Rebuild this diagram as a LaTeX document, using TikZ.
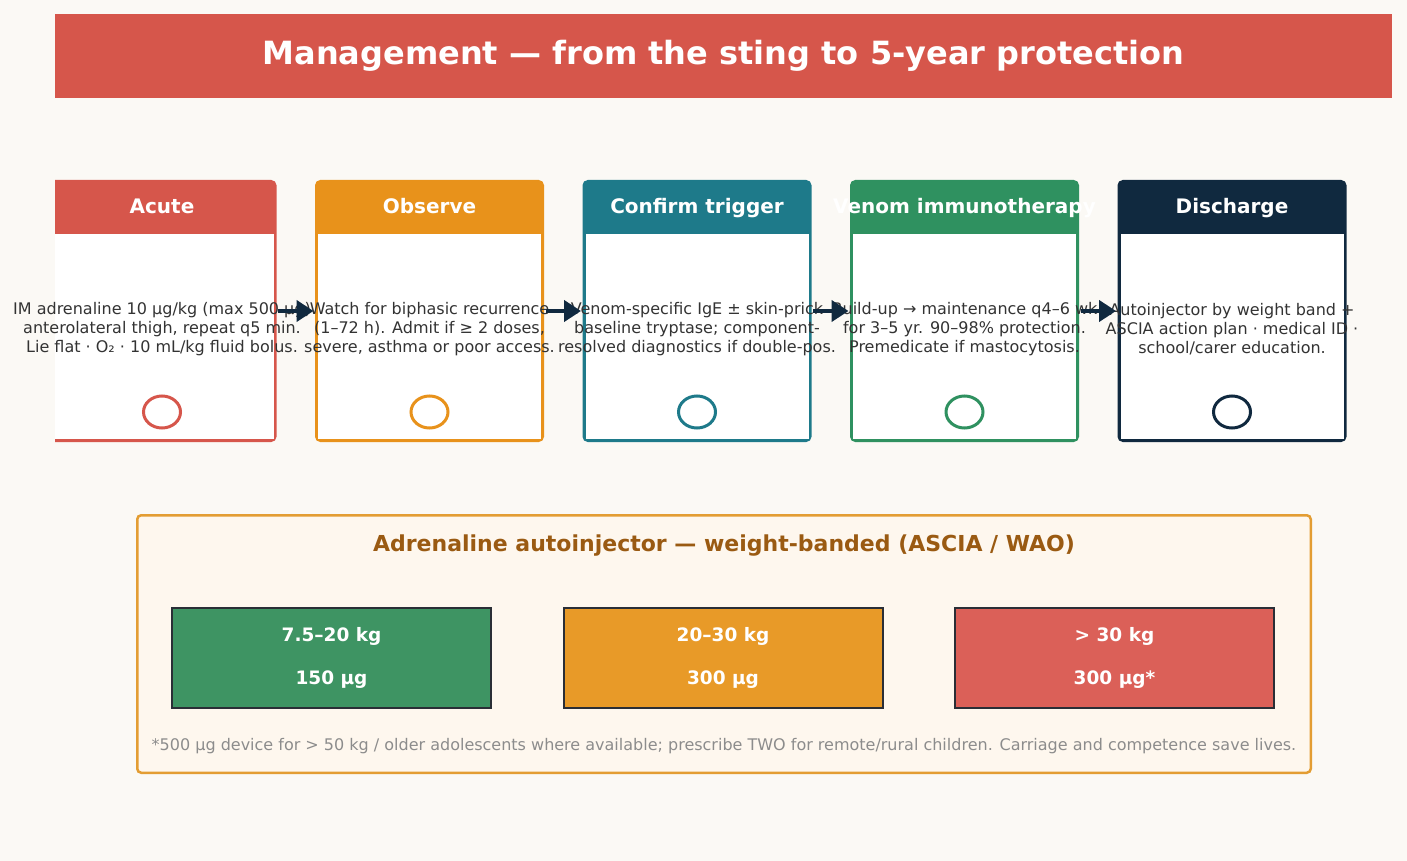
\documentclass[tikz,border=0pt]{standalone}
\usepackage{fontspec}
\setmainfont{DejaVu Sans}
\usepackage{xcolor}
\usetikzlibrary{arrows.meta, positioning, calc, shapes}

\definecolor{bgcream}{HTML}{FBF9F5}
\definecolor{cred}{HTML}{D6564B}
\definecolor{corange}{HTML}{E8921B}
\definecolor{cteal}{HTML}{1E7A8A}
\definecolor{cgreen}{HTML}{2F9160}
\definecolor{cnavy}{HTML}{10293F}
\definecolor{txtgray}{HTML}{333333}
\definecolor{notegray}{HTML}{8C8C8C}
\definecolor{panelfill}{HTML}{FEF7EE}
\definecolor{panelline}{HTML}{E39D33}
\definecolor{paneltext}{HTML}{9A5A12}
\definecolor{bgreen}{HTML}{3E9463}
\definecolor{borange}{HTML}{E89A28}
\definecolor{bred}{HTML}{DB6058}
\definecolor{bandline}{HTML}{2A2E36}

\begin{document}
\begin{tikzpicture}[x=1pt, y=-1pt, >=Stealth, node distance=41.5pt,
            card/.style={rectangle, fill=#1, draw=#1, line width=3pt, rounded corners=4pt, outer sep=0pt, inner sep=0pt, minimum width=226pt, minimum height=259pt},
            hdr/.style={anchor=base, text=white, font=\fontsize{20}{24}\selectfont\bfseries},
            body/.style={text=txtgray, align=center, font=\fontsize{16}{19}\selectfont},
            ring/.style={ellipse, draw=#1, line width=3pt, fill=white, inner sep=0pt, minimum width=37pt, minimum height=32pt},
            flow/.style={-{Triangle[length=17pt, width=21pt]}, line width=4.5pt, draw=cnavy, shorten >=3pt, shorten <=3pt},
            band/.style={rectangle, fill=#1, draw=bandline, line width=2pt, outer sep=0pt, minimum width=319pt, minimum height=100pt, text=white, align=center, font=\fontsize{18.5}{43}\selectfont\bfseries}]

            \fill[bgcream] (0,0) rectangle (1407,861);
            \useasboundingbox (0,0) rectangle (1407,861);

            \node[fill=cred, minimum width=1337pt, minimum height=84pt, text=white, font=\fontsize{32}{38}\selectfont\bfseries] (banner) at (723.5,56) {Management — from the sting to 5-year protection};

            % ===== cards =====
            \begin{scope}
                \clip (55,170) rectangle (300,450);
                \node[card=cred] (acute) at (162,311) {};
                \fill[white] ($(acute.south west)+(1.5,-1.5)$) rectangle ($(acute.north east)+(-1.5,52.5)$);
            \end{scope}
            \node[card=corange, right=of acute] (observe) {};
            \node[card=cteal, right=of observe] (confirm) {};
            \node[card=cgreen, right=of confirm] (vit) {};
            \node[card=cnavy, right=of vit] (discharge) {};

            \fill[white] ($(observe.south west)+(1.5,-1.5)$) rectangle ($(observe.north east)+(-1.5,52.5)$);
            \fill[white] ($(confirm.south west)+(1.5,-1.5)$) rectangle ($(confirm.north east)+(-1.5,52.5)$);
            \fill[white] ($(vit.south west)+(1.5,-1.5)$) rectangle ($(vit.north east)+(-1.5,52.5)$);
            \fill[white] ($(discharge.south west)+(1.5,-1.5)$) rectangle ($(discharge.north east)+(-1.5,52.5)$);

            \node[hdr] (acute_h) at ($(acute.north)+(0,31.5)$) {Acute};
            \node[hdr] (observe_h) at ($(observe.north)+(0,31.5)$) {Observe};
            \node[hdr] (confirm_h) at ($(confirm.north)+(0,31.5)$) {Confirm trigger};
            \node[hdr] (vit_h) at ($(vit.north)+(0,31.5)$) {Venom immunotherapy};
            \node[hdr] (discharge_h) at ($(discharge.north)+(0,31.5)$) {Discharge};

            \node[body] (acute_b) at ($(acute.center)+(0,18.5)$) {IM adrenaline 10 µg/kg (max 500 µg)\\anterolateral thigh, repeat q5 min.\\Lie flat · O₂ · 10 mL/kg fluid bolus.};
            \node[body] (observe_b) at ($(observe.center)+(0,18.5)$) {Watch for biphasic recurrence\\(1–72 h). Admit if ≥ 2 doses,\\severe, asthma or poor access.};
            \node[body] (confirm_b) at ($(confirm.center)+(0,18.5)$) {Venom-specific IgE ± skin-prick\\baseline tryptase; component-\\resolved diagnostics if double-pos.};
            \node[body] (vit_b) at ($(vit.center)+(0,18.5)$) {Build-up → maintenance q4–6 wk\\for 3–5 yr. 90–98\% protection.\\Premedicate if mastocytosis.};
            \node[body] (discharge_b) at ($(discharge.center)+(0,18.5)$) {Autoinjector by weight band +\\ASCIA action plan · medical ID ·\\school/carer education.};

            \node[ring=cred] (acute_c) at ($(acute.south)+(0,-28.5)$) {};
            \node[ring=corange] (observe_c) at ($(observe.south)+(0,-28.5)$) {};
            \node[ring=cteal] (confirm_c) at ($(confirm.south)+(0,-28.5)$) {};
            \node[ring=cgreen] (vit_c) at ($(vit.south)+(0,-28.5)$) {};
            \node[ring=cnavy] (discharge_c) at ($(discharge.south)+(0,-28.5)$) {};

            \draw[flow] (acute.east) -- (observe.west);
            \draw[flow] (observe.east) -- (confirm.west);
            \draw[flow] (confirm.east) -- (vit.west);
            \draw[flow] (vit.east) -- (discharge.west);

            % ===== autoinjector panel =====
            \node[fill=panelfill, draw=panelline, line width=2.5pt, rounded corners=4pt, outer sep=0pt, minimum width=1173.5pt, minimum height=257.5pt] (dose) at (724,644) {};
            \node[text=paneltext, font=\fontsize{22}{26}\selectfont\bfseries] (dose_t) at ($(dose.north)+(0,30)$) {Adrenaline autoinjector — weight-banded (ASCIA / WAO)};

            \node[band=bgreen] (band1) at (331.5,658) {7.5–20 kg\\150 µg};
            \node[band=borange, right=72.5pt of band1] (band2) {20–30 kg\\300 µg};
            \node[band=bred, right=72.5pt of band2] (band3) {> 30 kg\\300 µg*};

            \node[text=notegray, font=\fontsize{16}{19}\selectfont] (dose_n) at ($(dose.south)+(0,-26.5)$) {*500 µg device for > 50 kg / older adolescents where available; prescribe TWO for remote/rural children. Carriage and competence save lives.};
        \end{tikzpicture}
\end{document}
